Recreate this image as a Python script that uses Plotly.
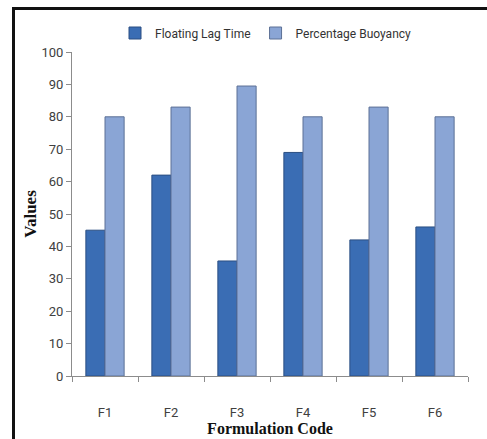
import plotly.graph_objects as go

# Formulation codes and measured responses
formulations = ["F1", "F2", "F3", "F4", "F5", "F6"]
floating_lag_time = [45, 62, 35.5, 69, 42, 46]
percentage_buoyancy = [80, 83, 89.5, 80, 83, 80]
y_ticks = [0, 10, 20, 30, 40, 50, 60, 70, 80, 90, 100]

label_font = "Roboto, Liberation Sans, Arial, sans-serif"
title_font = "Liberation Serif, Times New Roman, serif"

W, H = 487, 439
# Paper starts at the frame corner (15, 10) and runs to the page edges
ML, MT = 15, 10
PW, PH = W - ML, H - MT


def px_x(x):
    return (x - ML) / PW


def px_y(y):
    return (H - y) / PH


fig = go.Figure()
fig.add_trace(go.Bar(
    name="Floating Lag Time", x=formulations, y=floating_lag_time,
    marker=dict(color="#3a6db4", line=dict(color="#2b4f82", width=1)),
))
fig.add_trace(go.Bar(
    name="Percentage Buoyancy", x=formulations, y=percentage_buoyancy,
    marker=dict(color="#8aa5d5", line=dict(color="#5d7196", width=1)),
))
# Empty overlay axes carry the heavy top/left frame lines
fig.add_trace(go.Scatter(x=[], y=[], xaxis="x2", yaxis="y2",
                         showlegend=False, hoverinfo="skip"))

frame_axis = dict(showline=True, linecolor="#111111", linewidth=3,
                  showticklabels=False, ticks="", showgrid=False,
                  zeroline=False, range=[0, 1], fixedrange=True)

fig.update_layout(
    width=W, height=H,
    margin=dict(l=ML, r=0, t=MT, b=0, pad=0, autoexpand=False),
    paper_bgcolor="white", plot_bgcolor="rgba(0,0,0,0)",
    barmode="group", bargap=0.42, bargroupgap=0,
    font=dict(family=label_font, size=12, color="#404040"),
    showlegend=True,
    legend=dict(
        orientation="h", x=px_x(266), xanchor="center",
        y=px_y(33), yanchor="middle",
        font=dict(family=label_font, size=12, color="#333333"),
        itemwidth=30, traceorder="normal",
    ),
    xaxis=dict(
        domain=[px_x(72), px_x(468)], anchor="y",
        automargin=False,
        showline=True, linecolor="#8c8c8c", linewidth=1,
        ticks="outside", tickson="boundaries", ticklen=5, tickcolor="#8c8c8c",
        ticklabelstandoff=24,
        tickfont=dict(family=label_font, size=13, color="#404040"),
        title=dict(text="<b>Formulation Code</b>", standoff=4,
                   font=dict(family=title_font, size=16, color="#111111")),
        range=[-0.5, 5.5],
    ),
    yaxis=dict(
        domain=[px_y(376), px_y(52)], anchor="x",
        automargin=False,
        range=[0, 100], tickvals=y_ticks,
        showline=True, linecolor="#8c8c8c", linewidth=1,
        ticks="outside", ticklen=5, tickcolor="#8c8c8c",
        showgrid=False, zeroline=False,
        tickfont=dict(family=label_font, size=13, color="#404040"),
        title=dict(text="<b>Values</b>", standoff=0,
                   font=dict(family=title_font, size=17, color="#111111")),
    ),
    xaxis2=dict(domain=[0, 1], anchor="y2", side="top", **frame_axis),
    yaxis2=dict(domain=[0, 1], anchor="x2", side="left", **frame_axis),
)

page_css = (
    "document.documentElement.style.overflow='hidden';"
    "document.body.style.margin='0';"
    "document.body.style.overflow='hidden';"
)
fig.write_html("out.html", post_script=page_css)
